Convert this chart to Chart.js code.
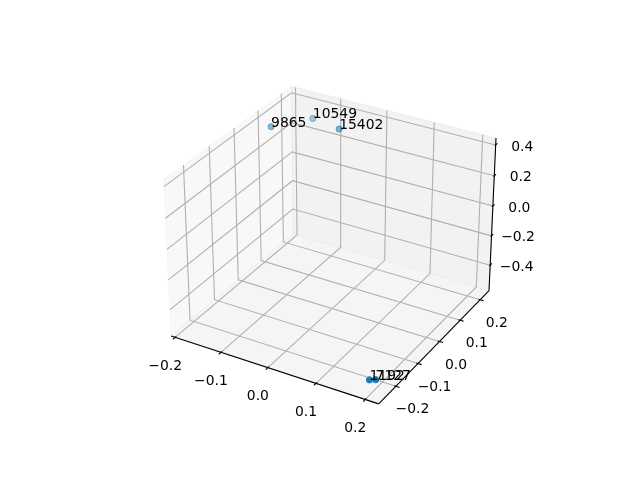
<!DOCTYPE html>
<html>
<head>
<meta charset="utf-8">
<style>
  html, body { margin: 0; padding: 0; background: #fff; }
  canvas { display: block; }
</style>
<script src="https://cdn.jsdelivr.net/npm/chart.js@4"></script>
</head>
<body>
<canvas id="my-chart" width="640" height="480"></canvas>
<script>
const pointNames = ["9865", "10549", "15402", "1192", "7127"];
const pointX = [-0.175, -0.125, -0.06, 0.192, 0.201];
const pointY = [0.089, 0.171, 0.155, -0.24, -0.233];
const pointZ = [0.378, 0.378, 0.378, -0.51, -0.51];
const pointAlpha = [0.5, 0.38, 0.55, 1, 1];

const xTicks = [-0.2, -0.1, 0.0, 0.1, 0.2];
const yTicks = [-0.2, -0.1, 0.0, 0.1, 0.2];
const zTicks = [-0.4, -0.2, 0.0, 0.2, 0.4];

// edges of the drawn box
const xLim = [-0.209, 0.227];
const yLim = [-0.275, 0.245];
const zLim = [-0.577, 0.444];

const font = "13.9px 'DejaVu Sans'";
const gridColor = "#b0b0b0";

// same camera as a default mplot3d axes: elev 30, azim -60, dist 10
const elev = (30 * Math.PI) / 180;
const azim = (-60 * Math.PI) / 180;
const dist = 10;
const boxSize = [1.142857, 1.142857, 0.857143];
const boxPad = 1 / 48;

const dot = (a, b) => a[0] * b[0] + a[1] * b[1] + a[2] * b[2];
const w = [Math.cos(elev) * Math.cos(azim), Math.cos(elev) * Math.sin(azim), Math.sin(elev)];
const uLen = Math.hypot(w[0], w[1]);
const u = [-w[1] / uLen, w[0] / uLen, 0];
const v = [w[1] * u[2] - w[2] * u[1], w[2] * u[0] - w[0] * u[2], w[0] * u[1] - w[1] * u[0]];
const eye = boxSize.map((s, i) => s / 2 + dist * w[i]);

function toWorld(value, lim, size) {
  const t = (value - lim[0]) / (lim[1] - lim[0]);
  return (t * (1 + 2 * boxPad) - boxPad) * size;
}

function project(x, y, z) {
  const world = [toWorld(x, xLim, boxSize[0]), toWorld(y, yLim, boxSize[1]), toWorld(z, zLim, boxSize[2])];
  const d = world.map((c, i) => c - eye[i]);
  const depth = -dot(w, d);
  return { x: dot(u, d) / depth, y: dot(v, d) / depth };
}

const [x0, x1] = xLim;
const [y0, y1] = yLim;
const [z0, z1] = zLim;

const datasets = [];

function addPane(corners, color) {
  datasets.push({
    data: [...corners, corners[0]].map((c) => project(...c)),
    showLine: true,
    fill: "shape",
    backgroundColor: color,
    borderColor: color,
    borderWidth: 1,
    pointRadius: 0,
    tension: 0,
  });
}

function addLine(corners, color, width) {
  datasets.push({
    data: corners.map((c) => project(...c)),
    showLine: true,
    fill: false,
    borderColor: color,
    borderWidth: width,
    pointRadius: 0,
    tension: 0,
  });
}

addPane([[x0, y0, z0], [x0, y1, z0], [x0, y1, z1], [x0, y0, z1]], "rgba(242,242,242,0.5)");
addPane([[x0, y1, z0], [x1, y1, z0], [x1, y1, z1], [x0, y1, z1]], "rgba(230,230,230,0.5)");
addPane([[x0, y0, z0], [x1, y0, z0], [x1, y1, z0], [x0, y1, z0]], "rgba(236,236,236,0.5)");

for (const t of xTicks) addLine([[t, y0, z0], [t, y1, z0], [t, y1, z1]], gridColor, 1.1);
for (const t of yTicks) addLine([[x1, t, z0], [x0, t, z0], [x0, t, z1]], gridColor, 1.1);
for (const t of zTicks) addLine([[x0, y0, t], [x0, y1, t], [x1, y1, t]], gridColor, 1.1);

addLine([[x0, y0, z0], [x1, y0, z0]], "#000", 1.1);
addLine([[x1, y0, z0], [x1, y1, z0]], "#000", 1.1);
addLine([[x1, y1, z0], [x1, y1, z1]], "#000", 1.1);

const xStep = (y1 - y0) / 12;
const yStep = (x1 - x0) / 12;
const zStep = (y1 - y0) / 12;
for (const t of xTicks) addLine([[t, y0 - xStep * 0.2, z0], [t, y0 + xStep * 0.1, z0]], "#000", 1.1);
for (const t of yTicks) addLine([[x1 + yStep * 0.2, t, z0], [x1 - yStep * 0.1, t, z0]], "#000", 1.1);
for (const t of zTicks) addLine([[x1, y1 + zStep * 0.2, t], [x1, y1 - zStep * 0.1, t]], "#000", 1.1);

pointNames.forEach((name, i) => {
  const color = `rgba(31,119,180,${pointAlpha[i]})`;
  datasets.push({
    data: [project(pointX[i], pointY[i], pointZ[i])],
    showLine: false,
    pointRadius: 3.1,
    pointBackgroundColor: color,
    pointBorderColor: color,
    pointBorderWidth: 1,
  });
});

// chart.js paints the lowest order last
datasets.forEach((set, i) => {
  set.order = datasets.length - i;
});

function tickText(t) {
  return t.toFixed(1).replace("-", "\u2212");
}

const textPlugin = {
  id: "textPlugin",
  afterDatasetsDraw(chart) {
    const { ctx, scales } = chart;
    const toPixel = (p) => [scales.x.getPixelForValue(p.x), scales.y.getPixelForValue(p.y)];
    ctx.save();
    ctx.font = font;
    ctx.fillStyle = "#000";

    ctx.textAlign = "center";
    ctx.textBaseline = "middle";
    const tickLabel = (t, p, dx, dy) => {
      const [px, py] = toPixel(p);
      ctx.fillText(tickText(t), px + dx, py + dy);
    };
    for (const t of xTicks) tickLabel(t, project(t, y0, z0), -10, 29);
    for (const t of yTicks) tickLabel(t, project(x1, t, z0), 16.5, 23.5);
    for (const t of zTicks) tickLabel(t, project(x1, y1, t), 26.5, 2);

    ctx.textAlign = "left";
    ctx.textBaseline = "alphabetic";
    pointNames.forEach((name, i) => {
      const [px, py] = toPixel(project(pointX[i], pointY[i], pointZ[i]));
      ctx.fillText(name, px, py);
    });
    ctx.restore();
  },
};

new Chart(document.querySelector("#my-chart"), {
  type: "scatter",
  data: { datasets },
  plugins: [textPlugin],
  options: {
    responsive: false,
    animation: false,
    layout: { padding: { left: 143.2, right: 127.2, top: 57.6, bottom: 52.8 } },
    plugins: { legend: { display: false }, tooltip: { enabled: false } },
    scales: {
      x: { display: false, min: -0.095, max: 0.09 },
      y: { display: false, min: -0.095, max: 0.09 },
    },
  },
});
</script>
</body>
</html>
